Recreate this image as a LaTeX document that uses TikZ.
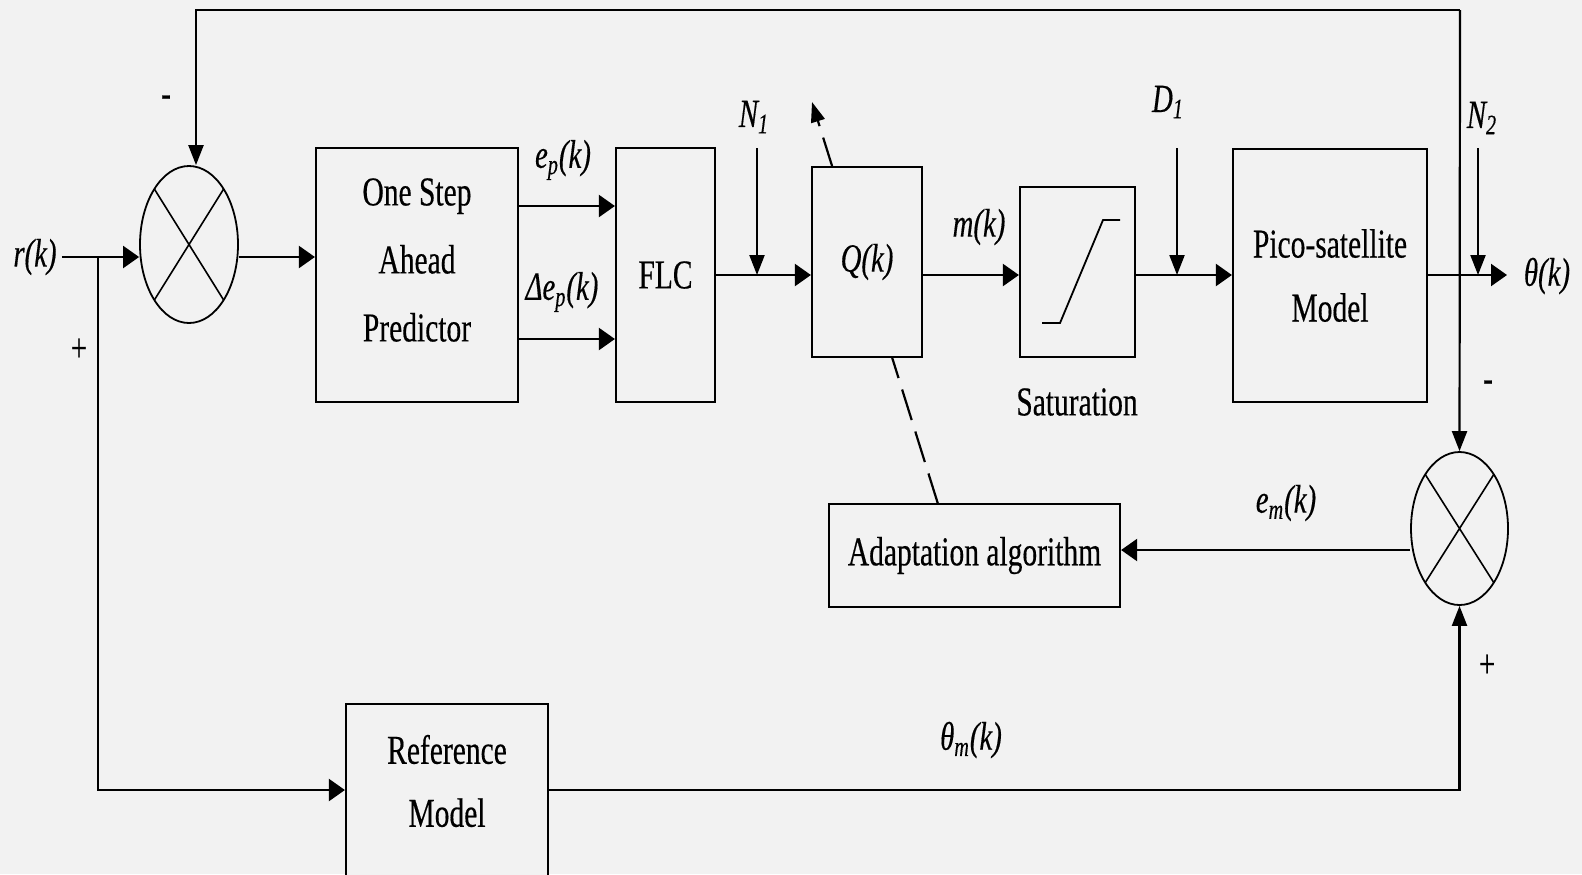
\documentclass[tikz,border=0pt]{standalone}
\usepackage{fontspec}
\setmainfont{Liberation Serif}[FakeStretch=0.72,FakeBold=0.35]
\usetikzlibrary{arrows.meta,shapes.geometric,calc}
\definecolor{bg}{HTML}{F2F2F2}
\begin{document}
\begin{tikzpicture}[x=0.5pt,y=-0.5pt,
  box/.style={draw, line width=1.1pt, fill=bg, inner sep=0pt},
  btext/.style={font=\fontsize{20.5}{34}\selectfont, align=center, inner sep=0pt},
  lbl/.style={font=\fontsize{20}{24}\selectfont\itshape, inner sep=0pt},
  sgn/.style={font=\fontsize{20}{24}\selectfont, inner sep=0pt},
  sumnode/.style={ellipse, draw, line width=0.9pt, fill=bg, inner sep=0pt,
    path picture={\draw[line width=0.8pt]
      (path picture bounding box.north west) -- (path picture bounding box.south east)
      (path picture bounding box.north east) -- (path picture bounding box.south west);}},
  wire/.style={line width=1.1pt},
  harr/.style={wire, -{Triangle[length=8pt,width=11pt]}},
  varr/.style={wire, -{Triangle[length=10pt,width=7.5pt]}},
  dasharr/.style={wire, dash pattern=on 16pt off 6pt, -{Triangle[length=10pt,width=7pt]}}
]
\clip (0,0) rectangle (1582,874);
\fill[bg] (0,0) rectangle (1582,874);

% summing junctions
\node[sumnode, minimum width=49pt, minimum height=78.5pt] (s1) at (189,244.5) {};
\node[sumnode, minimum width=48.5pt, minimum height=76.5pt] (s2) at (1459.5,528.5) {};

% blocks
\node[box, minimum width=101pt, minimum height=127pt] (pred) at (417,275) {};
\node[btext] (predtxt) at ([yshift=7.5pt]pred.center) {One Step\\Ahead\\Predictor};
\node[box, btext, minimum width=49.5pt, minimum height=127pt] (flc) at (665.5,275) {FLC};
\node[box, minimum width=57.5pt, minimum height=85pt] (sat) at (1077.5,272) {};
\node[box, btext, font=\fontsize{20.5}{32}\selectfont, minimum width=97pt, minimum height=126.5pt] (pico) at (1330,275.5) {Pico-satellite\\Model};
\node[box, btext, minimum width=145.5pt, minimum height=51.5pt] (adapt) at (974.5,555.5) {Adaptation algorithm};
\node[box, minimum width=101pt, minimum height=86pt] (ref) at (447,790) {};
\node[btext, font=\fontsize{20.5}{31.5}\selectfont] (reftxt) at ([yshift=4.5pt]ref.center) {Reference\\Model};

% saturation characteristic
\draw[line width=0.9pt] ($(sat.center)+(-35.5,51)$) -- ++(18,0) -- ($(sat.center)+(25.5,-52)$) -- ++(17,0);
\node[btext] (satlbl) at (1077,402) {Saturation};

% dashed adaptation arrow (behind Q box)
\coordinate (dstart) at (938,504);
\coordinate (dend) at (812,102);
\draw[dasharr] (dstart) -- (dend);
\node[box, lbl, minimum width=55pt, minimum height=95pt] (q) at (867,262) {Q(k)};

% coordinates
\coordinate (split) at (98,257);
\coordinate (n1top) at (757,148);
\coordinate (d1top) at (1177,148);
\coordinate (n2top) at (1478,148);
\coordinate (out) at (1507,275);
\coordinate (tr) at (1460,10);
\coordinate (tl) at (196,10);
\coordinate (aw) at ([yshift=2.75pt]adapt.east);

% labels
\node[lbl] (rk) at (35,257) {r(k)};
\node[lbl] (ep) at (563,160) {e\textsubscript{p}(k)};
\node[lbl] (dep) at (562,292) {Δe\textsubscript{p}(k)};
\node[lbl] (n1) at (754,117) {N\textsubscript{1}};
\node[lbl] (mk) at (979,227) {m(k)};
\node[lbl] (d1) at (1168,102) {D\textsubscript{1}};
\node[lbl] (n2) at (1482,118) {N\textsubscript{2}};
\node[lbl] (thk) at (1547,276) {θ(k)};
\node[lbl] (em) at (1286,503) {e\textsubscript{m}(k)};
\node[lbl] (thm) at (971,740) {θ\textsubscript{m}(k)};
\node[sgn] (m1) at (166,101) {-};
\node[sgn] (p1) at (79,350) {+};
\node[sgn] (m2) at (1488,386) {-};
\node[sgn] (p2) at (1487,666) {+};

% connectors
\draw[wire, shorten <=2.5pt] (rk.east) -- (split);
\draw[harr] (split) -- (s1.west |- split);
\draw[harr] (s1.east |- split) -- (pred.west |- split);
\draw[harr] ([yshift=34.5pt]pred.east) -- ([yshift=34.5pt]pred.east -| flc.west);
\draw[harr] ([yshift=-32pt]pred.east) -- ([yshift=-32pt]pred.east -| flc.west);
\draw[harr] (flc.east) -- (q.west |- flc.east);
\draw[varr] (n1top) -- (n1top |- flc.east);
\draw[harr] (q.east |- flc.east) -- (sat.west |- flc.east);
\draw[harr] (sat.east |- flc.east) -- (pico.west |- flc.east);
\draw[varr] (d1top) -- (d1top |- flc.east);
\draw[harr] (pico.east |- flc.east) -- (out);
\draw[varr] (n2top) -- (n2top |- flc.east);
\draw[varr] (tr) -- (s2.north);
\draw[varr] (tr) -- (tl) -- (tl |- s1.north);
\draw[harr] (s2.west |- aw) -- (aw);
\draw[harr] (split) |- (ref.west);
\draw[varr] (ref.east) -| (s2.south);
\end{tikzpicture}
\end{document}
